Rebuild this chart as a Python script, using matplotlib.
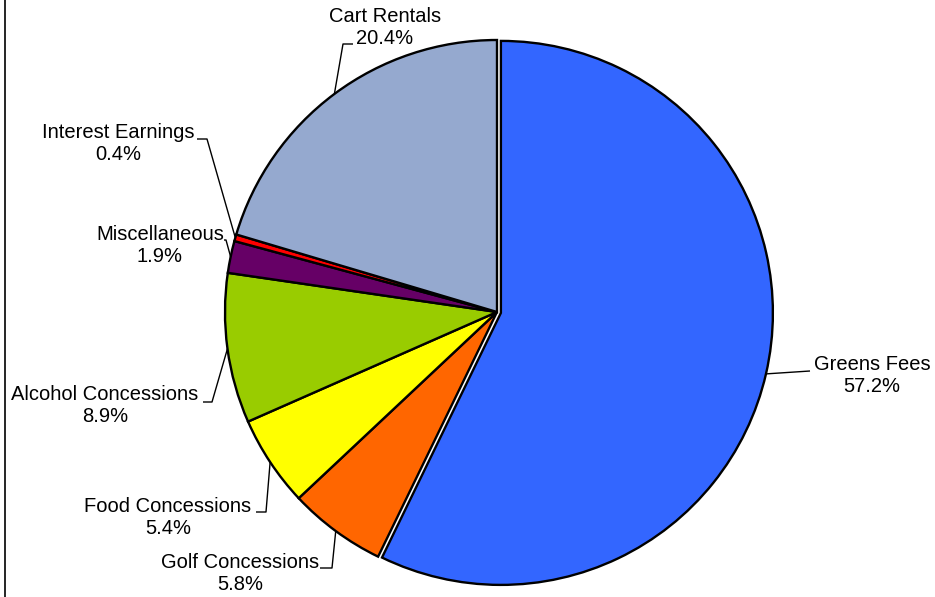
import numpy as np
import matplotlib
matplotlib.use("Agg")
import matplotlib.pyplot as plt
from matplotlib.lines import Line2D

plt.rcParams['font.family'] = ['Liberation Sans', 'DejaVu Sans']

categories = ["Greens Fees", "Golf Concessions", "Food Concessions",
              "Alcohol Concessions", "Miscellaneous", "Interest Earnings",
              "Cart Rentals"]
shares = [57.2, 5.8, 5.4, 8.9, 1.9, 0.4, 20.4]
colors = ["#3366FF", "#FF6600", "#FFFF00", "#99CC00", "#660066",
          "#FF0000", "#95A9CF"]
# offset of the pulled-out slice, in pixels
explode = [4, 0, 0, 0, 0, 0, 0]

W, H = 935, 597
fig = plt.figure(figsize=(W / 100, H / 100), dpi=100)
ax = fig.add_axes([0, 0, 1, 1])

cx, cy, R = 497, H - 312, 272
wedges, _ = ax.pie(shares, colors=colors, explode=explode, startangle=90,
                   counterclock=False, center=(cx, cy), radius=R, frame=True,
                   wedgeprops=dict(edgecolor="black", linewidth=1.7))
ax.set_xlim(0, W)
ax.set_ylim(0, H)
ax.set_aspect("equal")
ax.axis("off")

# label text centre and the elbow of each leader line (screen pixels, y down)
label_pos = {
    "Greens Fees": ((872, 376), [(810, 371)]),
    "Golf Concessions": ((240, 573), [(332, 568), (320, 568)]),
    "Food Concessions": ((168, 517), [(266, 512), (256, 512)]),
    "Alcohol Concessions": ((105, 406), [(212, 402), (203, 402)]),
    "Miscellaneous": ((160, 245), [(226, 240), (224, 240)]),
    "Interest Earnings": ((118, 143), [(207, 139), (197, 139)]),
    "Cart Rentals": ((385, 28), [(343, 44), (353, 44)]),
}

for w, name, val in zip(wedges, categories, shares):
    mid = np.deg2rad((w.theta1 + w.theta2) / 2)
    wx, wy = w.center
    ax_pt = (wx + w.r * np.cos(mid), wy + w.r * np.sin(mid))
    (tx, ty), elbow = label_pos[name]
    xs = [ax_pt[0]] + [p[0] for p in elbow]
    ys = [ax_pt[1]] + [H - p[1] for p in elbow]
    ax.plot(xs, ys, color="black", linewidth=1.0, solid_capstyle="butt")
    ax.text(tx, H - ty, f"{name}\n{val:.1f}%", ha="center", va="center",
            multialignment="center", fontsize=14.5, linespacing=1.2,
            color="black")

fig.add_artist(Line2D([4.5 / W, 4.5 / W], [0, 1], color="black",
                      linewidth=1.2, transform=fig.transFigure))

fig.savefig("out.png", dpi=100, facecolor="white")
